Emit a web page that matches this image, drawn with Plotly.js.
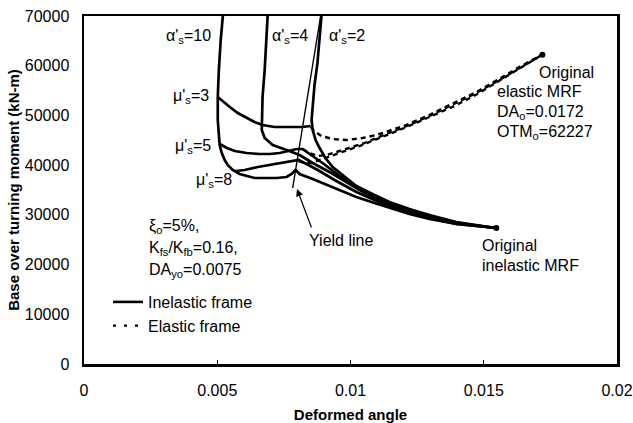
<!DOCTYPE html>
<html>
<head>
<meta charset="utf-8">
<script src="https://cdn.plot.ly/plotly-3.0.1.min.js"></script>
<style>html,body{margin:0;padding:0;background:#fff;}#chart{width:633px;height:423px;}</style>
</head>
<body>
<div id="chart"></div>
<script>
// ---- data (deformed angle, base overturning moment kN-m) ----
const alpha10X = [0.00521,0.00513,0.00506,0.00502,0.00502,0.00506,0.00509,0.00517,0.00528,0.00539,0.00558,0.00584,0.00610,0.00640,0.00670,0.00723,0.00760,0.00779,0.00794,0.00809,0.00858,0.00895,0.00959,0.01022,0.01090,0.01146,0.01221,0.01296,0.01397,0.01547];
const alpha10Y = [70000,65170,59140,53710,49080,46060,44050,42440,41030,40030,39020,38220,37820,37410,37410,37410,37620,38220,39020,38220,37210,36410,35000,33590,32390,31380,30170,29170,28160,27360];

const alpha4X = [0.00689,0.00685,0.00678,0.00670,0.00667,0.00667,0.00678,0.00708,0.00760,0.00809,0.00858,0.00921,0.00978,0.01034,0.01090,0.01146,0.01221,0.01296,0.01397,0.01547];
const alpha4Y = [70000,65170,59140,53710,50090,47070,45460,44050,43050,42040,40430,38620,36810,35000,33390,31980,30580,29370,28360,27360];

const alpha2X = [0.00891,0.00884,0.00876,0.00865,0.00858,0.00854,0.00858,0.00869,0.00884,0.00906,0.00933,0.00978,0.01022,0.01090,0.01146,0.01221,0.01296,0.01397,0.01547];
const alpha2Y = [70000,65170,60550,56120,52100,49080,47070,45060,43450,41440,39630,37620,35800,33990,32590,31180,29970,28560,27360];

const mu3X = [0.00502,0.00524,0.00547,0.00577,0.00610,0.00640,0.00670,0.00715,0.00772,0.00820,0.00850];
const mu3Y = [53710,52700,51700,50490,49480,48680,48080,47670,47670,47670,47870];

const mu5X = [0.00509,0.00536,0.00566,0.00610,0.00659,0.00697,0.00734,0.00772,0.00798,0.00820,0.00858,0.00895,0.00959,0.01022,0.01090,0.01146,0.01221,0.01296,0.01397,0.01547];
const mu5Y = [44250,43450,42840,42440,42240,42240,42440,42840,43250,43250,41840,40430,37820,35600,33590,32180,30780,29570,28360,27360];

const mu8X = [0.00569,0.00603,0.00652,0.00697,0.00742,0.00779,0.00805,0.00835,0.00884,0.00940,0.01022,0.01090,0.01146,0.01221,0.01296,0.01397,0.01547];
const mu8Y = [38820,39020,39630,40030,40430,40830,41030,40230,38820,37010,34600,32990,31780,30370,29370,28160,27360];

const yieldX = [0.00888,0.00783];
const yieldY = [70000,35400];

const el3X = [0.00850,0.00869,0.00891,0.00933,0.00985,0.01045,0.01097,0.01146,0.01210,0.01296,0.01382,0.01472,0.01558,0.01633,0.0172];
const el3Y = [47670,46670,45860,45260,45060,45460,46060,46870,48080,50090,52300,54710,57330,59740,62227];

const el5X = [0.00820,0.00846,0.00876,0.00910,0.00959,0.01007,0.01052,0.01097,0.01146,0.01202,0.01296,0.01382,0.01472,0.01558,0.01633,0.0172];
const el5Y = [43250,42440,41840,42040,42840,43650,44450,45460,46470,47670,49880,52100,54510,57130,59540,62227];

const el8X = [0.00805,0.00828,0.00854,0.00884,0.00921,0.00978,0.01034,0.01090,0.01146,0.01202,0.01296,0.01390,0.01476,0.01558,0.01633,0.0172];
const el8Y = [40830,40430,40430,41030,41640,42840,43850,45060,46260,47470,49680,51900,54310,56930,59340,62227];

const origX = [0.0172,0.01547];
const origY = [62227,27360];

const seriesNames = ['Inelastic frame','Elastic frame'];
const xTicks = [0,0.005,0.01,0.015,0.02];
const xTickText = ['0','0.005','0.01','0.015','0.02'];
const yTicks = [0,10000,20000,30000,40000,50000,60000,70000];

// ---- drawing ----
const FONT = '"Liberation Sans", Arial, Helvetica, sans-serif';
const solid = {color:'#000', width:2.7};
const thin = {color:'#000', width:1.4};
const dashed = {color:'#000', width:2.4, dash:'5px,4px'};

function tr(x,y,line){return {x:x,y:y,type:'scatter',mode:'lines',line:line,showlegend:false,hoverinfo:'skip'};}

const traces = [
  tr(yieldX,yieldY,thin),
  tr(alpha10X,alpha10Y,solid), tr(alpha4X,alpha4Y,solid), tr(alpha2X,alpha2Y,solid),
  tr(mu3X,mu3Y,solid), tr(mu5X,mu5Y,solid), tr(mu8X,mu8Y,solid),
  tr(el3X,el3Y,dashed), tr(el5X,el5Y,dashed), tr(el8X,el8Y,dashed),
  {x:origX,y:origY,type:'scatter',mode:'markers',marker:{color:'#000',size:6},showlegend:false,hoverinfo:'skip'},
  {x:[null],y:[null],type:'scatter',mode:'lines',name:seriesNames[0],line:{color:'#000',width:2.6},showlegend:true},
  {x:[null],y:[null],type:'scatter',mode:'lines',name:seriesNames[1],line:{color:'#000',width:2.2,dash:'3px,8px'},showlegend:true}
];

// pixel -> paper helpers for placing text
const L=84, R=617, T=16, B=364;
function P(px){return (px-L)/(R-L);}
function Q(py){return (B-py)/(B-T);}
function txt(text,px,py,xa){return {text:text,x:P(px),y:Q(py),xref:'paper',yref:'paper',xanchor:xa||'left',yanchor:'middle',showarrow:false,font:{family:FONT,size:16,color:'#000'}};}

const annotations = [
  txt("α'<sub>s</sub>=10",213,36,'right'),
  txt("α'<sub>s</sub>=4",270,36),
  txt("α'<sub>s</sub>=2",327,36),
  txt("μ'<sub>s</sub>=3",211,96,'right'),
  txt("μ'<sub>s</sub>=5",213,146,'right'),
  txt("μ'<sub>s</sub>=8",234,180,'right'),
  txt("Yield line",307,240),
  txt("ξ<sub>o</sub>=5%,",147,226),
  txt("K<sub>fs</sub>/K<sub>fb</sub>=0.16,",147,248),
  txt("DA<sub>yo</sub>=0.0075",147,270),
  txt("Original",537,72),
  txt("elastic MRF",495,92),
  txt("DA<sub>o</sub>=0.0172",495,112),
  txt("OTM<sub>o</sub>=62227",495,132),
  txt("Original",480,245),
  txt("inelastic MRF",480,265),
  {text:'',x:P(297),y:Q(189),xref:'paper',yref:'paper',showarrow:true,ax:15,ay:40,arrowhead:2,arrowsize:1.2,arrowwidth:1.2,arrowcolor:'#000',standoff:0}
];

const layout = {
  width:633, height:423,
  margin:{l:L, r:633-R, t:T, b:423-B, pad:0},
  paper_bgcolor:'#fff', plot_bgcolor:'#fff',
  font:{family:FONT, size:16, color:'#000'},
  showlegend:true,
  legend:{x:P(108), y:Q(285), xanchor:'left', yanchor:'top', bgcolor:'rgba(0,0,0,0)', borderwidth:0, font:{family:FONT,size:16,color:'#000'}, itemwidth:30, tracegroupgap:0},
  xaxis:{range:[0,0.02], tickvals:xTicks, ticktext:xTickText, showgrid:false, zeroline:false,
         showline:true, linewidth:2.5, linecolor:'#000', mirror:true,
         ticks:'inside', ticklen:4, tickwidth:1, tickcolor:'#000', ticklabelstandoff:10,
         tickfont:{family:FONT,size:16,color:'#000'},
         title:{text:'Deformed angle', font:{family:FONT,size:15,color:'#000',weight:700}, standoff:12}},
  yaxis:{range:[0,70000], tickvals:yTicks, tickformat:'d', showgrid:false, zeroline:false,
         showline:true, linewidth:2.5, linecolor:'#000', mirror:true,
         ticks:'', ticklabelstandoff:9,
         tickfont:{family:FONT,size:16,color:'#000'},
         title:{text:'Base over turning moment (kN-m)', font:{family:FONT,size:15,color:'#000',weight:700}, standoff:2}},
  annotations:annotations
};

Plotly.newPlot('chart', traces, layout, {staticPlot:true, displayModeBar:false});
</script>
</body>
</html>
